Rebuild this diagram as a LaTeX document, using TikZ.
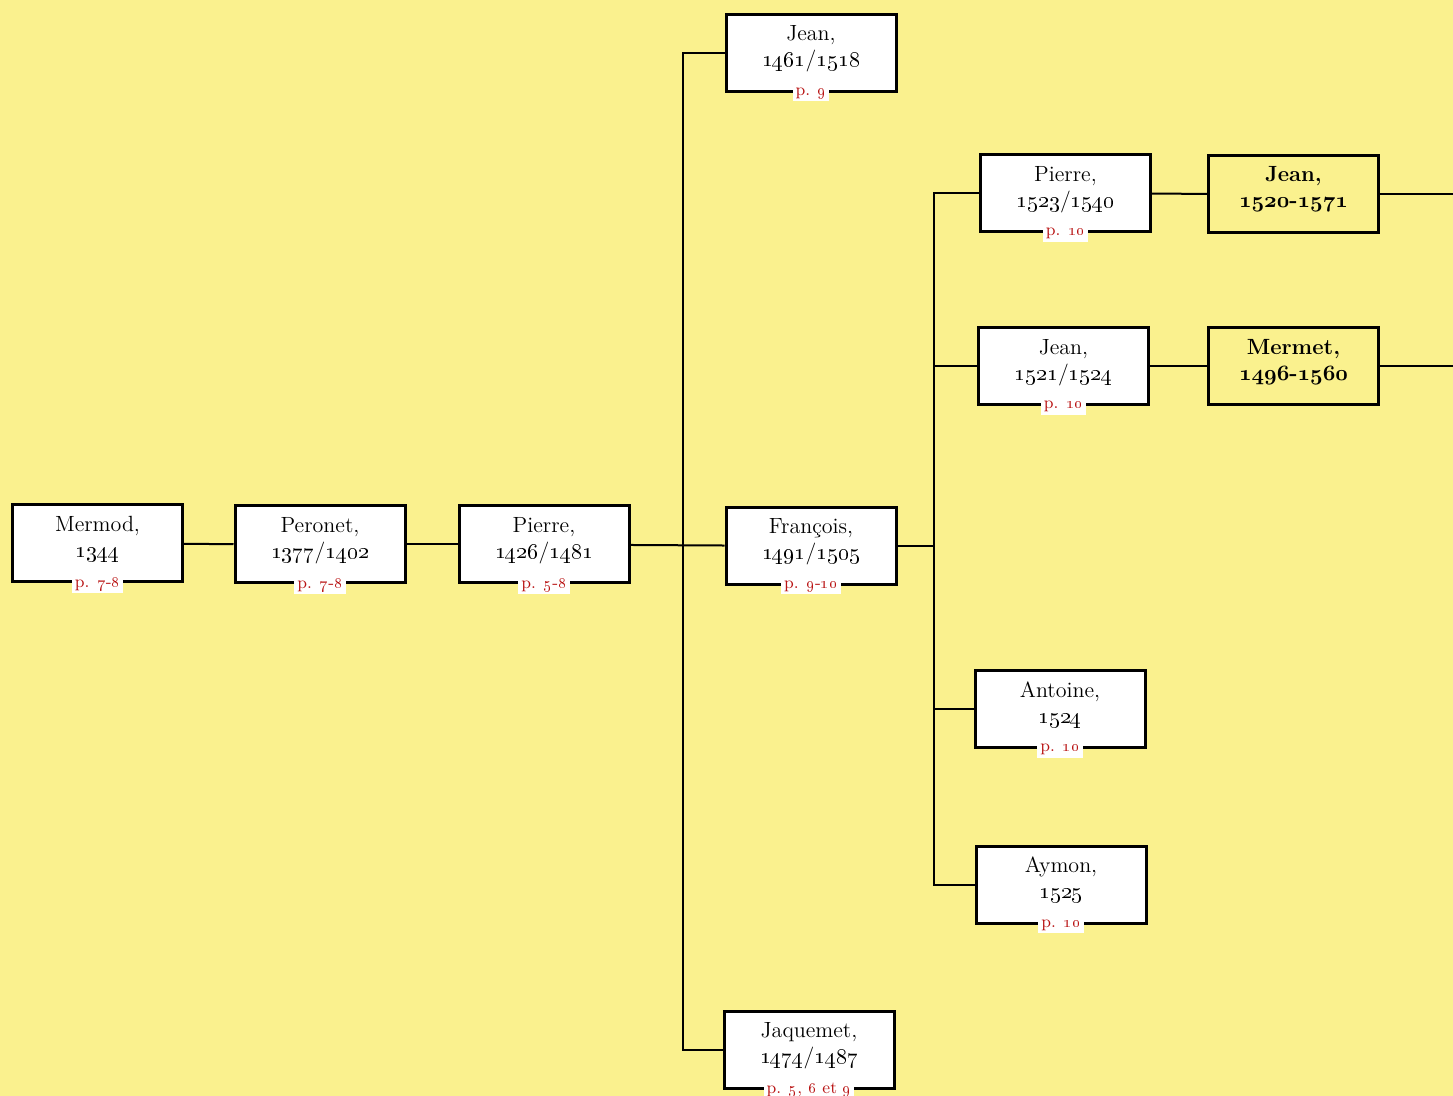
\documentclass[tikz,border=0pt]{standalone}
\usetikzlibrary{calc}

\definecolor{paper}{RGB}{250,241,142}
\definecolor{pagered}{RGB}{185,20,20}

\newcommand{\yr}[1]{\oldstylenums{#1}}
\newcommand{\yrb}[1]{{\usefont{OML}{cmm}{b}{it}#1}}

\tikzset{
  person/.style={draw, line width=1.5pt, fill=white, minimum width=85pt,
    minimum height=38.5pt, align=center, inner sep=2pt,
    font=\fontsize{11}{13}\selectfont,
    execute at end node={\rule[-7pt]{0pt}{0pt}}},
  later/.style={person, fill=paper, font=\fontsize{11}{13}\selectfont\bfseries},
  pagelabel/.style={fill=white, text=pagered, inner sep=1.5pt,
    font=\fontsize{8.5}{9}\selectfont},
  link/.style={line width=1pt}
}

\begin{document}
\begin{tikzpicture}[x=0.5pt,y=-0.5pt]

    % yellow page
    \fill[paper] (0,0) rectangle (1453,1096);
    \useasboundingbox (0,0) rectangle (1453,1096);

    % first generations
    \node[person] (mermod)   at (97.5,543.5) {Mermod,\\ \yr{1344}};
    \node[person] (peronet)  at (320,544.5)  {Peronet,\\ \yr{1377}/\yr{1402}};
    \node[person] (pierreA)  at (544,544.5)  {Pierre,\\ \yr{1426}/\yr{1481}};

    % sons of Pierre
    \node[person] (jeanA)    at (811,53)     {Jean,\\ \yr{1461}/\yr{1518}};
    \node[person] (francois) at (811,546)    {François,\\ \yr{1491}/\yr{1505}};
    \node[person] (jaquemet) at (809,1049.5) {Jaquemet,\\ \yr{1474}/\yr{1487}};

    % sons of François
    \node[person] (pierreB)  at (1065.5,193.5) {Pierre,\\ \yr{1523}/\yr{1540}};
    \node[person] (jeanB)    at (1063.5,366.5) {Jean,\\ \yr{1521}/\yr{1524}};
    \node[person] (antoine)  at (1060,709.5)   {Antoine,\\ \yr{1524}};
    \node[person] (aymon)    at (1061,885)     {Aymon,\\ \yr{1525}};

    % next page
    \node[later] (jeanC)  at (1293.5,194) {Jean,\\ \yrb{1520}-\yrb{1571}};
    \node[later] (mermet) at (1293.5,366.5) {Mermet,\\ \yrb{1496}-\yrb{1560}};

    % page references
    \node[pagelabel] (mermodp)   at (mermod.south)   {p. \yr{7}-\yr{8}};
    \node[pagelabel] (peronetp)  at (peronet.south)  {p. \yr{7}-\yr{8}};
    \node[pagelabel] (pierreAp)  at (pierreA.south)  {p. \yr{5}-\yr{8}};
    \node[pagelabel] (jeanAp)    at (jeanA.south)    {p. \yr{9}};
    \node[pagelabel] (francoisp) at (francois.south) {p. \yr{9}-\yr{10}};
    \node[pagelabel] (jaquemetp) at (jaquemet.south) {p. \yr{5}, \yr{6} et \yr{9}};
    \node[pagelabel] (pierreBp)  at (pierreB.south)  {p. \yr{10}};
    \node[pagelabel] (jeanBp)    at (jeanB.south)    {p. \yr{10}};
    \node[pagelabel] (antoinep)  at (antoine.south)  {p. \yr{10}};
    \node[pagelabel] (aymonp)    at (aymon.south)    {p. \yr{10}};

    % branch points
    \coordinate (t1) at (683,546);
    \coordinate (t2) at (934,546);
    \coordinate (e1) at (1453,194);
    \coordinate (e2) at (1453,366.5);

    % connectors
    \draw[link] (mermod) -- (peronet);
    \draw[link] (peronet) -- (pierreA);
    \draw[link] (pierreA) -- (francois);
    \draw[link] (jeanA.west) -| (t1) |- (jaquemet.west);
    \draw[link] (francois.east) -- (t2);
    \draw[link] (pierreB.west) -| (t2) |- (aymon.west);
    \draw[link] (jeanB.west) -- (jeanB.west -| t2);
    \draw[link] (antoine.west) -- (antoine.west -| t2);
    \draw[link] (pierreB) -- (jeanC);
    \draw[link] (jeanB) -- (mermet);
    \draw[link] (jeanC.east) -- (e1);
    \draw[link] (mermet.east) -- (e2);

\end{tikzpicture}
\end{document}
